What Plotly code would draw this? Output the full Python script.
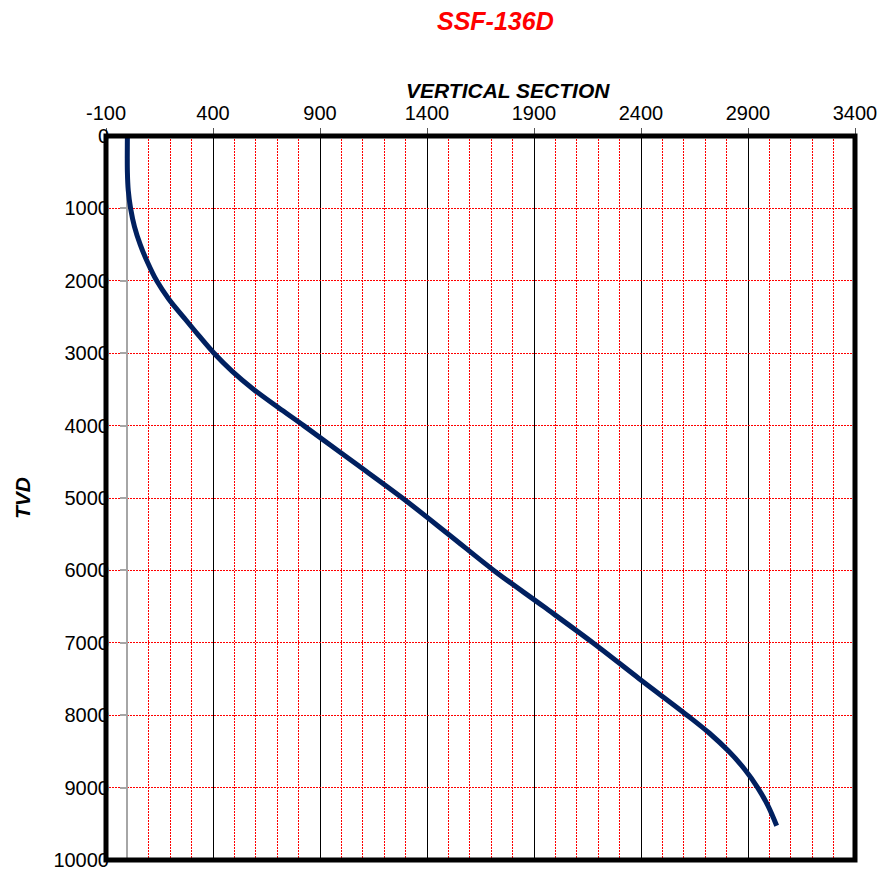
import plotly.graph_objects as go

# Well path: true vertical depth vs. vertical section (ft)
tvd = [0, 500, 750, 1000, 1250, 1500, 1750, 2000, 2250, 2500, 2750, 3000,
       3250, 3500, 3750, 4000, 4500, 5000, 5500, 6000, 6500, 7000, 7500,
       8000, 8250, 8500, 8750, 9000, 9250, 9528]
vsec = [0, 0, 4, 15, 33, 60, 95, 137, 193, 262, 332, 405,
        490, 590, 705, 824, 1055, 1285, 1500, 1712, 1945, 2175, 2393,
        2615, 2720, 2810, 2885, 2945, 2993, 3034]

x_ticks = [-100, 400, 900, 1400, 1900, 2400, 2900, 3400]
y_ticks = [0, 1000, 2000, 3000, 4000, 5000, 6000, 7000, 8000, 9000, 10000]
x_range = [-100, 3400]
y_range = [10001, -1]

FONT = "Liberation Sans, Arial, sans-serif"

fig = go.Figure()

fig.add_trace(go.Scatter(
    x=vsec, y=tvd, mode="lines",
    line=dict(color="#002060", width=5, shape="spline", smoothing=1.0),
    showlegend=False, hoverinfo="x+y",
))

# reference axis at zero vertical section
fig.add_trace(go.Scatter(x=[None], y=[None], yaxis="y2",
                         showlegend=False, hoverinfo="skip"))

fig.update_layout(
    width=883, height=870,
    margin=dict(l=106, r=28, t=136, b=10),
    paper_bgcolor="white", plot_bgcolor="white",
    font=dict(family=FONT, size=20, color="black"),
    showlegend=False,
    xaxis=dict(
        side="top", range=x_range, tickvals=x_ticks,
        ticktext=[str(v) for v in x_ticks],
        ticks="outside", ticklen=7, tickwidth=1, tickcolor="#555",
        showgrid=True, gridcolor="#000000", gridwidth=1,
        minor=dict(dtick=100, tick0=-100, showgrid=True, gridcolor="#ff0000",
                   griddash="2px,1px", gridwidth=1, ticks=""),
        zeroline=False, showline=False, automargin=False,
        tickfont=dict(size=20), ticklabeloverflow="allow",
    ),
    yaxis=dict(
        range=y_range, tickvals=y_ticks,
        ticktext=[str(v) for v in y_ticks], ticks="",
        showgrid=True, gridcolor="#ff0000", griddash="2px,1px", gridwidth=1,
        zeroline=False, showline=False, ticklabelstandoff=-4, automargin=False,
        tickfont=dict(size=20), ticklabeloverflow="allow",
    ),
    yaxis2=dict(
        overlaying="y", anchor="free",
        position=(0 - x_range[0]) / (x_range[1] - x_range[0]),
        side="left", range=y_range, tickvals=y_ticks,
        showline=True, linecolor="#a6a6a6", linewidth=2,
        ticks="outside", ticklen=6, tickwidth=2, tickcolor="#a6a6a6",
        showticklabels=False, showgrid=False, zeroline=False, automargin=False,
        layer="below traces",
    ),
    shapes=[dict(type="rect", xref="paper", yref="paper", x0=0, x1=1, y0=0, y1=1,
                 line=dict(color="black", width=5), layer="above")],
    annotations=[
        dict(text="<b><i>SSF-136D</i></b>", xref="paper", yref="paper",
             x=0.520, y=1.1588, xanchor="center", yanchor="middle",
             showarrow=False, font=dict(size=25, color="#ff0000", family=FONT)),
        dict(text="<b><i>VERTICAL SECTION</i></b>", xref="paper", yref="paper",
             x=0.537, y=1.0635, xanchor="center", yanchor="middle",
             showarrow=False, font=dict(size=21, color="black", family=FONT)),
        dict(text="<b><i>TVD</i></b>", xref="paper", yref="paper",
             x=-0.112, y=0.5, xanchor="center", yanchor="middle", textangle=-90,
             showarrow=False, font=dict(size=21, color="black", family=FONT)),
    ],
)

fig.write_html("out.html")
